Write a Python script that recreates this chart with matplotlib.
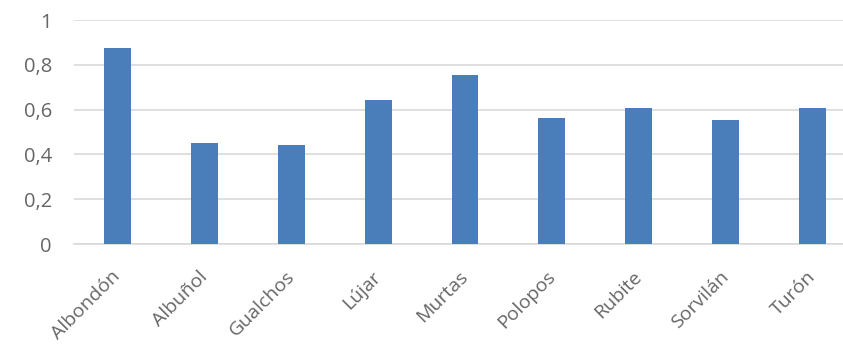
import matplotlib
matplotlib.use('Agg')
import matplotlib.pyplot as plt
import matplotlib.transforms as mtransforms
from matplotlib.ticker import FuncFormatter

plt.rcParams['font.family'] = ['Open Sans', 'DejaVu Sans']

BAR = '#4a7ebb'
GRID = '#d9d9d9'
TEXT = '#666666'

municipios = ['Albondón', 'Albuñol', 'Gualchos', 'Lújar', 'Murtas',
              'Polopos', 'Rubite', 'Sorvilán', 'Turón']
valores = [0.876, 0.45, 0.44, 0.641, 0.753, 0.564, 0.609, 0.552, 0.609]
yticks = [0, 0.2, 0.4, 0.6, 0.8, 1]

W, H = 843, 345
fig = plt.figure(figsize=(W / 100, H / 100), dpi=100)
# axes extend slightly past the right edge, as in the cropped reference
ax = fig.add_axes([74 / W, (H - 244) / H, 782 / W, 224 / H])

x = range(len(municipios))
ax.bar(x, valores, width=0.31, color=BAR, zorder=3)

ax.set_xlim(-0.5, len(municipios) - 0.5)
ax.set_ylim(0, 1)
ax.set_yticks(yticks)
ax.yaxis.set_major_formatter(FuncFormatter(lambda v, _: f'{v:g}'.replace('.', ',')))
ax.grid(True, axis='y', color=GRID, linewidth=1.2, zorder=0)

for s in ['top', 'right', 'left']:
    ax.spines[s].set_visible(False)
ax.spines['bottom'].set_color(GRID)
ax.spines['bottom'].set_linewidth(1.2)

ax.tick_params(axis='y', length=0, pad=16, labelsize=14.5, labelcolor=TEXT)
ax.tick_params(axis='x', length=0, pad=17, labelsize=14, labelcolor=TEXT)
ax.set_xticks(list(x))
ax.set_xticklabels(municipios, rotation=45, ha='right', rotation_mode='anchor')
shift = mtransforms.ScaledTranslation(-6 / 100, 0, fig.dpi_scale_trans)
for lbl in ax.get_xticklabels():
    lbl.set_transform(lbl.get_transform() + shift)

fig.savefig('out.png', dpi=100)
